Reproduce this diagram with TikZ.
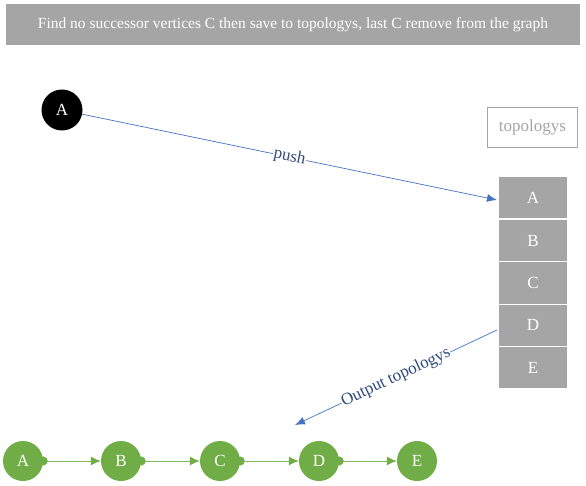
\documentclass[tikz,border=0pt]{standalone}
\usepackage{fontspec}
\setmainfont{Liberation Serif}
\usetikzlibrary{arrows.meta}
\definecolor{bannergray}{HTML}{A5A5A5}
\definecolor{arrowblue}{HTML}{4472C4}
\definecolor{labelblue}{HTML}{2F4A7A}
\definecolor{nodegreen}{HTML}{70AD47}
\definecolor{edgegreen}{HTML}{84B95F}
\tikzset{
  banner/.style={fill=bannergray, draw=none, minimum width=574pt, minimum height=41pt, inner sep=0pt, text=white, font=\fontsize{15.5}{17}\selectfont},
  blacknode/.style={circle, fill=black, minimum size=41pt, inner sep=0pt, text=white, font=\fontsize{17}{19}\selectfont},
  titlebox/.style={draw=bannergray, line width=0.8pt, fill=white, minimum width=90pt, minimum height=40pt, inner sep=0pt, text=bannergray, font=\fontsize{17}{19}\selectfont},
  stackbox/.style={fill=bannergray, minimum width=68pt, minimum height=41pt, inner sep=0pt, text=white, font=\fontsize{17}{19}\selectfont},
  greennode/.style={circle, fill=nodegreen, minimum size=40pt, inner sep=0pt, text=white, font=\fontsize{17}{19}\selectfont},
  bluearrow/.style={draw=arrowblue, line width=0.7pt, -{Latex[length=10pt,width=8pt]}},
  greenarrow/.style={draw=edgegreen, line width=1pt, {Circle[length=9pt,color=nodegreen,sep=-4.5pt]}-{Latex[length=10pt,width=9pt,color=nodegreen]}},
  lbl/.style={sloped, fill=white, inner sep=1pt, text=labelblue, font=\fontsize{17}{19}\selectfont}
}
\begin{document}
\begin{tikzpicture}[x=1pt,y=-1pt]
\useasboundingbox (0,0) rectangle (586,486);
\node[banner] (banner) at (293,24.5) {Find no successor vertices C then save to topologys, last C remove from the graph};
\node[blacknode] (a0) at (62,110) {A};
\node[titlebox] (topo) at (532.5,127.5) {topologys};
\node[stackbox] (sA) at (533,198) {A};
\node[stackbox] (sB) at (533,240.5) {B};
\node[stackbox] (sC) at (533,283) {C};
\node[stackbox] (sD) at (533,325) {D};
\node[stackbox] (sE) at (533,367.5) {E};
\coordinate (pushend) at (497,200);
\coordinate (outstart) at (497,330);
\coordinate (outend) at (295,425);
\draw[bluearrow] (a0) -- node[lbl, pos=0.5] {push} (pushend);
\draw[bluearrow] (outstart) -- node[lbl, pos=0.5] {Output topologys} (outend);
\node[greennode] (gA) at (23,461) {A};
\node[greennode] (gB) at (121,461) {B};
\node[greennode] (gC) at (220,461) {C};
\node[greennode] (gD) at (319,461) {D};
\node[greennode] (gE) at (417,461) {E};
\draw[greenarrow] (gA) -- (gB);
\draw[greenarrow] (gB) -- (gC);
\draw[greenarrow] (gC) -- (gD);
\draw[greenarrow] (gD) -- (gE);
\end{tikzpicture}
\end{document}
